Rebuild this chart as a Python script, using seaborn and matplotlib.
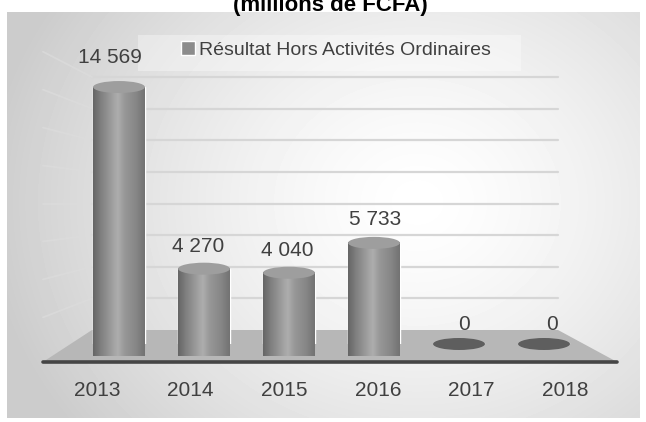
import matplotlib
matplotlib.use("Agg")
import matplotlib.pyplot as plt
from matplotlib.patches import Ellipse, Rectangle, Polygon
import numpy as np
import seaborn as sns

# data
years = ["2013", "2014", "2015", "2016", "2017", "2018"]
values = [14569, 4270, 4040, 5733, 0, 0]
grid_vals = [2000, 4000, 6000, 8000, 10000, 12000, 14000, 16000]
series_name = "Résultat Hors Activités Ordinaires"
title = "(millions de FCFA)"

W, H = 646, 422
FONT = ["Liberation Sans Narrow", "Liberation Sans", "DejaVu Sans"]
FS = 15
TXT = "#404040"

sns.set_theme(style="white")
plt.rcParams["font.family"] = FONT


def fx(px):
    return px / W


def fy(py):
    return 1 - py / H


fig = plt.figure(figsize=(W / 100, H / 100), dpi=100, facecolor="white")

# grey gradient panel behind everything
bg = fig.add_axes([fx(7), fy(418), 633 / W, 406 / H])
yy, xx = np.mgrid[0:406, 0:633]
r = np.sqrt(((xx - 410) / 430) ** 2 + ((yy - 190) / 370) ** 2)
shade = 1.0 - 0.2 * np.clip(r, 0, 1) ** 1.4
bg.imshow(shade, cmap="gray", vmin=0, vmax=1, aspect="auto")
bg.axis("off")
# faint white box behind the legend
bg.add_patch(Rectangle((fx(138), fy(71)), 383 / W, 36 / H,
                       transform=fig.transFigure, facecolor="white",
                       alpha=0.35, edgecolor="none", clip_on=False))

# back wall + floor (wall scale: 0 at floor back edge)
wall = fig.add_axes([fx(43), fy(330), 515 / W, 253 / H])
wall.set_xlim(0, 1)
wall.set_ylim(0, 16000)
wall.axis("off")
corner = (92 - 43) / 515
for v in grid_vals:
    wall.plot([corner, 1], [v, v], color="#d6d6d6", lw=1.6, clip_on=False)
    wall.plot([0, corner], [8000 + (v - 8000) * 1.2, v], color="#dcdcdc",
              lw=1.3, clip_on=False, alpha=0.7)
front = -2019
wall.add_patch(Polygon([(corner, 0), (1, 0), (1.1146, front), (0, front)],
                       closed=True, facecolor="#b7b7b7", edgecolor="none",
                       clip_on=False))
wall.plot([0, 1.1146], [front, front], color="#454545", lw=2.6,
          solid_capstyle="round", clip_on=False)

# cylinders
bax = fig.add_axes([fx(34), fy(344), 595 / W, 282.2 / H])
bax.patch.set_alpha(0)
bw = 0.61
sns.barplot(x=years, y=values, color="#8c8c8c", width=bw, saturation=1,
            label=series_name, ax=bax)
bax.set_xlim(-1, 6)
bax.set_ylim(0, 16000)
bax.axis("off")

stops = [0, 0.15, 0.4, 0.48, 0.6, 0.85, 1]
levels = [0.40, 0.50, 0.64, 0.68, 0.60, 0.52, 0.45]
grad = np.interp(np.linspace(0, 1, 80), stops, levels)[None, :]
eh = 12 / 17.64 * 1000  # ellipse height in data units

for i, (p, v) in enumerate(zip(bax.patches, values)):
    cx = p.get_x() + p.get_width() / 2
    x0 = p.get_x()
    if v > 0:
        bot = Ellipse((cx, 0), bw, eh, facecolor="#8c8c8c", edgecolor="none",
                      clip_on=False, zorder=2)
        bax.add_patch(bot)
        for clipper in (p, bot):
            im = bax.imshow(grad, cmap="gray", vmin=0, vmax=1, aspect="auto",
                            extent=(x0, x0 + bw, -eh, v), zorder=3,
                            clip_on=False)
            im.set_clip_path(clipper)
        bax.add_patch(Ellipse((cx, v), bw, eh, facecolor="#9e9e9e",
                              edgecolor="none", zorder=4))
    else:
        bax.add_patch(Ellipse((cx, v), bw, eh, facecolor="#5e5e5e",
                              edgecolor="none", clip_on=False, zorder=4))
    lab = f"{v:,}".replace(",", " ")
    bax.annotate(lab, (cx, v), xytext=(-9 + 3.4 * i, 10 + v * 0.00069),
                 textcoords="offset pixels", ha="center", va="bottom",
                 fontsize=FS, color=TXT, family=FONT)
bax.set_xlim(-1, 6)
bax.set_ylim(0, 16000)

# year labels (front edge of the floor)
lax = fig.add_axes([fx(34), fy(381), 595 / W, 1 / H])
lax.patch.set_alpha(0)
lax.set_xlim(-0.673, 5.684)
lax.set_xticks(range(len(years)))
lax.set_xticklabels(years, fontsize=FS, color=TXT, family=FONT)
lax.tick_params(axis="x", length=0, pad=0)
lax.set_yticks([])
for s in lax.spines.values():
    s.set_visible(False)

leg = bax.legend(loc="center", bbox_to_anchor=(fx(336), fy(50)),
                 bbox_transform=fig.transFigure, frameon=False,
                 handlelength=0.7, handleheight=0.7, handletextpad=0.2,
                 prop={"family": FONT, "size": 14})
for t in leg.get_texts():
    t.set_color(TXT)

fig.text(fx(330), fy(11), title, ha="center", va="baseline", fontsize=16,
         weight="bold", color="black", family=FONT)

fig.savefig("out.png", dpi=100)
